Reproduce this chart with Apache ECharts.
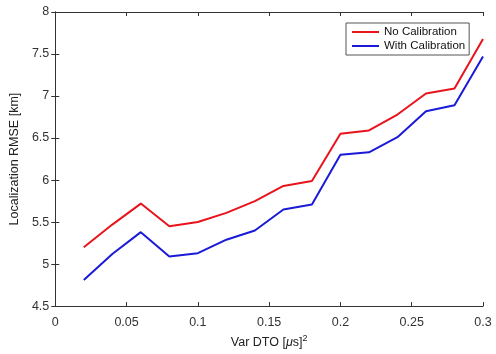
<!DOCTYPE html>
<html><head><meta charset="utf-8">
<script src="https://cdn.jsdelivr.net/npm/echarts@6/dist/echarts.min.js"></script>
<style>html,body{margin:0;padding:0;background:#fff}#c{width:496px;height:354px}</style>
</head><body><div id="c"></div>
<script>
const xValues = [0.02,0.04,0.06,0.08,0.10,0.12,0.14,0.16,0.18,0.20,0.22,0.24,0.26,0.28,0.30];
const noCalibration = [5.20,5.47,5.72,5.45,5.50,5.61,5.75,5.93,5.99,6.55,6.59,6.78,7.03,7.09,7.68];
const withCalibration = [4.81,5.12,5.38,5.09,5.13,5.29,5.40,5.65,5.71,6.30,6.33,6.51,6.82,6.89,7.47];
const seriesNames = ['No Calibration','With Calibration'];

const chart = echarts.init(document.getElementById('c'));
const font = 'Liberation Sans, Arial, sans-serif';
const axisCol = '#333';
const tickLbl = {color:'#333', fontSize:12.5, fontFamily:font};
chart.setOption({
  animation:false,
  backgroundColor:'#fff',
  grid:{left:55,right:13,top:12,bottom:45},
  legend:{
    data:seriesNames, orient:'vertical', left:346, top:23,
    icon:'rect', itemHeight:2, itemWidth:27,
    backgroundColor:'#fff', borderColor:'#555', borderWidth:1,
    padding:[2,4,2,6], itemGap:0,
    textStyle:{fontFamily:font,fontSize:11.5,color:'#111',lineHeight:14}
  },
  xAxis:[{
    type:'value', min:0, max:0.3, interval:0.05, position:'bottom',
    name:'{n|Var DTO [}{mu|μ}{n|s]}{sup|2}', nameLocation:'middle', nameGap:24,
    nameTextStyle:{rich:{
      n:{fontFamily:font,fontSize:12.5,color:'#222'},
      mu:{fontFamily:font,fontSize:12.5,color:'#222',fontStyle:'italic'},
      sup:{fontFamily:font,fontSize:9,color:'#222',verticalAlign:'top',padding:[0,0,8,0]}
    }},
    axisLine:{show:true,lineStyle:{color:axisCol,width:1}},
    axisTick:{show:true,inside:true,length:4,lineStyle:{color:axisCol}},
    axisLabel:Object.assign({margin:10,formatter:v=>String(+v.toFixed(2))},tickLbl),
    splitLine:{show:false}
  },{
    type:'value', min:0, max:0.3, interval:0.05, position:'top',
    axisLine:{show:true,lineStyle:{color:axisCol,width:1}},
    axisTick:{show:true,inside:true,length:4,lineStyle:{color:axisCol}},
    axisLabel:{show:false}, splitLine:{show:false}
  }],
  yAxis:[{
    type:'value', min:4.5, max:8, interval:0.5, position:'left',
    name:'Localization RMSE [km]', nameLocation:'middle', nameGap:25,
    nameTextStyle:{fontFamily:font,fontSize:12.5,color:'#222'},
    axisLine:{show:true,lineStyle:{color:axisCol,width:1}},
    axisTick:{show:true,inside:true,length:4,lineStyle:{color:axisCol}},
    axisLabel:Object.assign({margin:6},tickLbl),
    splitLine:{show:false}
  },{
    type:'value', min:4.5, max:8, interval:0.5, position:'right',
    axisLine:{show:true,lineStyle:{color:axisCol,width:1}},
    axisTick:{show:true,inside:true,length:4,lineStyle:{color:axisCol}},
    axisLabel:{show:false}, splitLine:{show:false}
  }],
  series:[{
    name:seriesNames[0], type:'line', symbol:'none', xAxisIndex:0, yAxisIndex:0,
    data:xValues.map((x,i)=>[x,noCalibration[i]]),
    lineStyle:{color:'#e8141c',width:2}, itemStyle:{color:'#e8141c'}
  },{
    name:seriesNames[1], type:'line', symbol:'none', xAxisIndex:0, yAxisIndex:0,
    data:xValues.map((x,i)=>[x,withCalibration[i]]),
    lineStyle:{color:'#1a1ad8',width:2}, itemStyle:{color:'#1a1ad8'}
  }]
});
</script></body></html>
